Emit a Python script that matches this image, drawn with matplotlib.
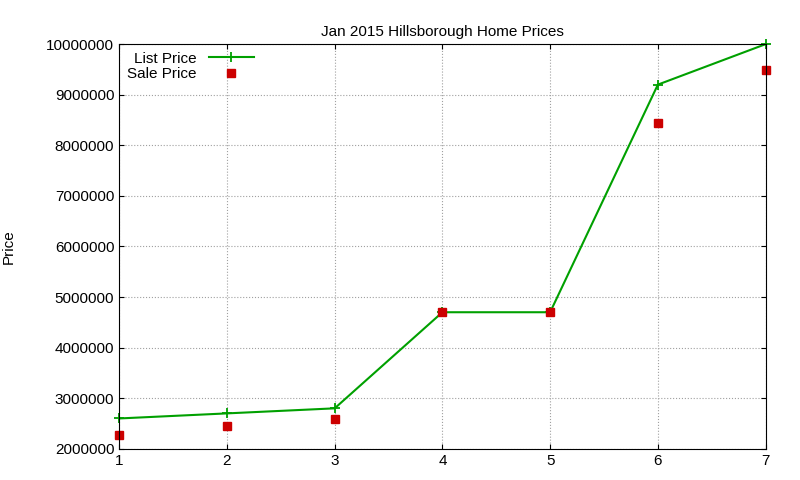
import matplotlib
matplotlib.use("Agg")
import matplotlib.pyplot as plt

x = [1, 2, 3, 4, 5, 6, 7]
list_price = [2600000, 2700000, 2800000, 4700000, 4700000, 9200000, 10000000]
sale_price = [2280000, 2450000, 2590000, 4700000, 4700000, 8440000, 9490000]

plt.rcParams['font.family'] = ['Liberation Sans', 'DejaVu Sans']
fig = plt.figure(figsize=(8, 4.8), dpi=100)
ax = fig.add_axes([0.149, 0.065, 0.808, 0.843])
ax.plot(x, list_price, color='#00a000', lw=1.5, marker='+', ms=7, mew=1.3, label='List Price', clip_on=False)
ax.plot(x, sale_price, color='#cc0000', lw=0, marker='s', ms=6, label='Sale Price', clip_on=False)
ax.set_xlim(1, 7)
ax.set_ylim(2000000, 10000000)
ax.set_xticks(x)
ax.set_yticks(range(2000000, 10000001, 1000000))
ax.ticklabel_format(style='plain', axis='y')
ax.grid(True, color='#a0a0a0', linestyle=':', lw=0.8)
ax.tick_params(direction='in', labelsize=11, top=True, right=True)
ax.set_ylabel('Price', fontsize=11, labelpad=22)
ax.set_title('Jan 2015 Hillsborough Home Prices', fontsize=11)
leg = ax.legend(loc='upper left', frameon=False, fontsize=11, markerfirst=False, handlelength=3, borderaxespad=0.1, labelspacing=0.1)
fig.savefig('out.png')
